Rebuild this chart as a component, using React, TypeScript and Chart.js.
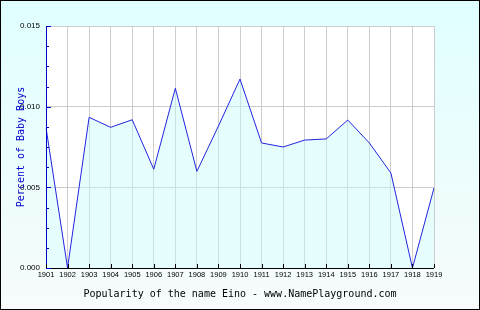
import React, { useEffect, useRef } from "react";
import { Chart, registerables } from "chart.js";

Chart.register(...registerables);

const years = ["1901","1902","1903","1904","1905","1906","1907","1908","1909","1910","1911","1912","1913","1914","1915","1916","1917","1918","1919"];
const percents = [0.0087, 0.0, 0.00934, 0.00872, 0.00919, 0.00612, 0.01114, 0.00599, 0.0088, 0.01171, 0.00775, 0.0075, 0.00793, 0.008, 0.00917, 0.00775, 0.00589, 0.0, 0.00496];
const yMajorTicks = [0, 0.005, 0.01, 0.015];
const chartTitle = "Popularity of the name Eino - www.NamePlayground.com";
const yTitle = "Percent of Baby Boys";

const decorPlugin = {
  id: "decor",
  beforeDraw(chart: any) {
    const { ctx, width, height, chartArea } = chart;
    ctx.save();
    const g = ctx.createLinearGradient(0, 0, 0, height);
    g.addColorStop(0, "#e0ffff");
    g.addColorStop(1, "#f7fbfb");
    ctx.fillStyle = g;
    ctx.fillRect(0, 0, width, height);
    ctx.fillStyle = "#ffffff";
    ctx.fillRect(chartArea.left, chartArea.top, chartArea.right - chartArea.left, chartArea.bottom - chartArea.top);
    ctx.restore();
  },
  afterDraw(chart: any) {
    const { ctx, width, height, chartArea, scales } = chart;
    const xs = scales.x, ys = scales.y;
    ctx.save();
    // axes
    ctx.strokeStyle = "#0000cc";
    ctx.lineWidth = 1;
    ctx.beginPath();
    ctx.moveTo(chartArea.left + 0.5, chartArea.top);
    ctx.lineTo(chartArea.left + 0.5, chartArea.bottom + 0.5);
    ctx.stroke();
    ctx.strokeStyle = "#000000";
    ctx.beginPath();
    ctx.moveTo(chartArea.left, chartArea.bottom + 0.5);
    ctx.lineTo(chartArea.right, chartArea.bottom + 0.5);
    ctx.stroke();
    // y ticks (inward)
    ctx.strokeStyle = "#0000cc";
    for (let i = 0; i <= 12; i++) {
      const v = i * 0.00125;
      const y = Math.round(ys.getPixelForValue(v)) + 0.5;
      const len = i % 4 === 0 ? 5 : 3;
      ctx.beginPath();
      ctx.moveTo(chartArea.left, y);
      ctx.lineTo(chartArea.left + len, y);
      ctx.stroke();
    }
    // x ticks (inward)
    ctx.strokeStyle = "#000000";
    for (let i = 0; i < years.length; i++) {
      const x = Math.round(xs.getPixelForValue(i)) + 0.5;
      ctx.beginPath();
      ctx.moveTo(x, chartArea.bottom);
      ctx.lineTo(x, chartArea.bottom - 4);
      ctx.stroke();
    }
    // titles
    ctx.font = "10px 'DejaVu Sans Mono'";
    ctx.fillStyle = "#000000";
    ctx.textAlign = "center";
    ctx.textBaseline = "middle";
    ctx.fillText(chartTitle, (chartArea.left + chartArea.right) / 2, 294);
    ctx.save();
    ctx.translate(21, (chartArea.top + chartArea.bottom) / 2);
    ctx.rotate(-Math.PI / 2);
    ctx.fillStyle = "#0000cc";
    ctx.fillText(yTitle, 0, 0);
    ctx.restore();
    // border
    ctx.strokeStyle = "#000000";
    ctx.strokeRect(0.5, 0.5, width - 1, height - 1);
    ctx.restore();
  },
};

export default function App() {
  const ref = useRef<HTMLCanvasElement | null>(null);
  useEffect(() => {
    document.body.style.margin = "0";
    const chart = new Chart(ref.current as HTMLCanvasElement, {
      type: "line",
      data: {
        labels: years,
        datasets: [
          {
            data: percents,
            borderColor: "#2424dd",
            borderWidth: 1,
            backgroundColor: "rgba(200,250,250,0.45)",
            fill: "origin",
            pointRadius: 0,
            tension: 0,
          },
        ],
      },
      plugins: [decorPlugin],
      options: {
        animation: false,
        responsive: false,
        layout: { padding: { left: 0, right: 46, top: 26, bottom: 0 } },
        plugins: { legend: { display: false }, tooltip: { enabled: false } },
        scales: {
          x: {
            type: "category",
            offset: false,
            grid: { color: "#cccccc", drawTicks: false },
            border: { display: false },
            ticks: {
              autoSkip: false,
              maxRotation: 0,
              minRotation: 0,
              padding: 2,
              color: "#000000",
              font: { family: "'Liberation Sans'", size: 7.5 },
            },
            afterFit(scale: any) {
              scale.height = 310 - 268;
            },
          },
          y: {
            min: 0,
            max: 0.015,
            grid: {
              color: (c: any) => {
                const v = c.tick ? c.tick.value : 0;
                return yMajorTicks.some((m) => Math.abs(m - v) < 1e-9) ? "#cccccc" : "rgba(0,0,0,0)";
              },
              drawTicks: false,
            },
            border: { display: false },
            ticks: {
              stepSize: 0.00125,
              padding: 6,
              color: "#000000",
              font: { family: "'Liberation Sans'", size: 8 },
              callback: (v: any) => {
                const n = Number(v);
                return yMajorTicks.some((m) => Math.abs(m - n) < 1e-9) ? n.toFixed(3) : "";
              },
            },
            afterFit(scale: any) {
              scale.width = 46;
            },
          },
        },
      },
    });
    return () => chart.destroy();
  }, []);
  return <canvas ref={ref} width={480} height={310} style={{ display: "block" }} />;
}
